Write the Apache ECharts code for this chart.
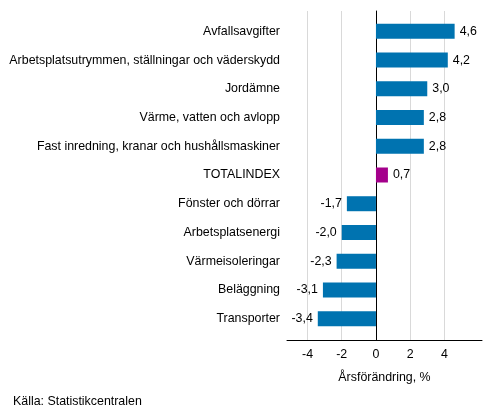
<!DOCTYPE html>
<html>
<head>
<meta charset="utf-8">
<script src="https://cdn.jsdelivr.net/npm/echarts@6/dist/echarts.min.js"></script>
<style>
html,body{margin:0;padding:0;background:#fff;}
#main{width:493px;height:416px;}
</style>
</head>
<body>
<div id="main"></div>
<script>
var categories = ['Avfallsavgifter', 'Arbetsplatsutrymmen, ställningar och väderskydd', 'Jordämne',
	'Värme, vatten och avlopp', 'Fast inredning, kranar och hushållsmaskiner', 'TOTALINDEX',
	'Fönster och dörrar', 'Arbetsplatsenergi', 'Värmeisoleringar', 'Beläggning', 'Transporter'];
var values = [4.6, 4.2, 3.0, 2.8, 2.8, 0.7, -1.7, -2.0, -2.3, -3.1, -3.4];
var tickValues = [-4, -2, 0, 2, 4];
var axisTitle = 'Årsförändring, %';
var sourceText = 'Källa: Statistikcentralen';

var font = 'Arial, "Liberation Sans", sans-serif';
var xMin = -5.2, xMax = 6.2;

var barData = values.map(function (v, i) {
	return {
		value: v,
		itemStyle: {color: categories[i] === 'TOTALINDEX' ? '#a4008b' : '#0073b0'},
		label: {position: v < 0 ? 'left' : 'right'}
	};
});

var myChart = echarts.init(document.getElementById('main'));
myChart.setOption({
	animation: false,
	textStyle: {fontFamily: font},
	graphic: [{
		type: 'text', left: 13, top: 396,
		style: {text: sourceText, fontSize: 12.4, fontFamily: font, fill: '#000'}
	}],
	grid: [
		{left: 287, right: 11, top: 11, bottom: 76},
		{left: 287, right: 11, top: 17, bottom: 83}
	],
	xAxis: [{
		gridIndex: 0, type: 'value', min: xMin, max: xMax,
		axisLine: {show: false},
		splitLine: {show: true, lineStyle: {color: '#d9d9d9', width: 1}},
		axisTick: {show: false, customValues: tickValues},
		axisLabel: {show: false, customValues: tickValues}
	}, {
		gridIndex: 1, type: 'value', min: xMin, max: xMax, offset: 7,
		axisLine: {show: true, lineStyle: {color: '#000', width: 1}},
		axisTick: {show: false, customValues: tickValues},
		splitLine: {show: false},
		axisLabel: {color: '#000', fontSize: 12.4, margin: 9, customValues: tickValues},
		name: axisTitle, nameLocation: 'middle', nameGap: 32,
		nameTextStyle: {color: '#000', fontSize: 12.4}
	}],
	yAxis: [{
		gridIndex: 0, type: 'category', data: ['a'],
		axisLine: {show: true, onZero: true, lineStyle: {color: '#000', width: 1}},
		axisTick: {show: false}, axisLabel: {show: false}
	}, {
		gridIndex: 1, type: 'category', data: categories, inverse: true,
		axisLine: {show: false, onZero: false}, axisTick: {show: false},
		axisLabel: {color: '#000', fontSize: 12.4, margin: 7}
	}],
	series: [{
		type: 'bar', xAxisIndex: 1, yAxisIndex: 1,
		data: barData, barWidth: 15,
		label: {
			show: true, color: '#000', fontSize: 12.4, distance: 5,
			formatter: function (p) { return p.value.toFixed(1).replace('.', ','); }
		}
	}]
});
</script>
</body>
</html>
